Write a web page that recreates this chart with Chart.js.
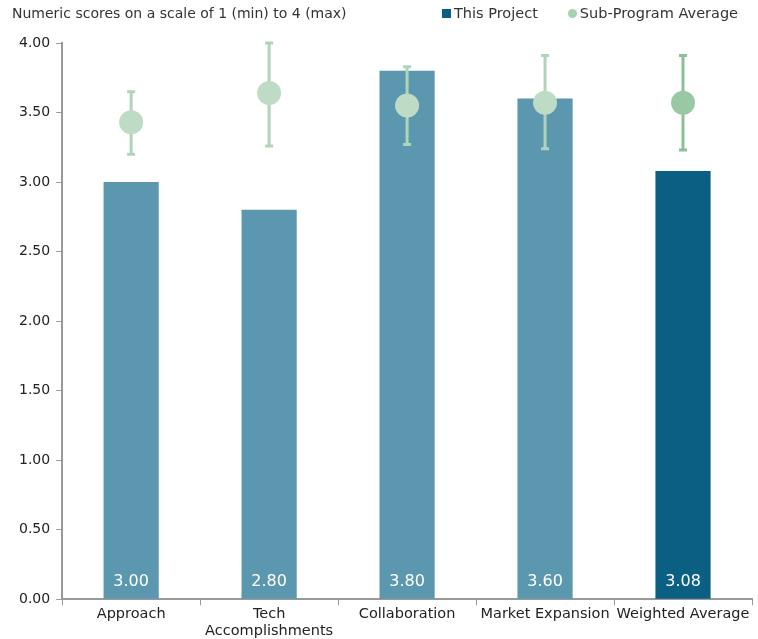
<!DOCTYPE html>
<html lang="en">
<head>
  <meta charset="UTF-8" />
  <title>Project Scores</title>
  <script src="https://cdn.jsdelivr.net/npm/chart.js"></script>
  <style>
    body {
      margin: 0;
      background: #fff;
      font-family: 'DejaVu Sans', sans-serif;
    }
    .wrap {
      position: relative;
      width: 758px;
      height: 639px;
    }
    .title {
      position: absolute;
      left: 12px;
      top: 5px;
      font-size: 14px;
      color: #333;
    }
    .legend {
      position: absolute;
      left: 442px;
      top: 5px;
      font-size: 14.5px;
      color: #333;
      white-space: nowrap;
    }
    .legend span { margin-right: 30px; }
    .sq {
      display: inline-block;
      width: 9px; height: 9px;
      background: #0a5f82;
      margin-right: 3px;
    }
    .dot {
      display: inline-block;
      width: 9px; height: 9px;
      border-radius: 50%;
      background: #a7d1b1;
      margin-right: 3px;
    }
  </style>
</head>
<body>
  <div class="wrap">
    <div class="title">Numeric scores on a scale of 1 (min) to 4 (max)</div>
    <div class="legend"><span><i class="sq"></i>This Project</span><span><i class="dot"></i>Sub-Program Average</span></div>
    <canvas id="scores" width="758" height="639"></canvas>
  </div>

  <script>
    const categories = ['Approach', ['Tech', 'Accomplishments'], 'Collaboration', 'Market Expansion', 'Weighted Average'];
    const projectScores = [3.00, 2.80, 3.80, 3.60, 3.08];
    const subProgramAvg = [3.43, 3.64, 3.55, 3.57, 3.57];
    const subProgramLow = [3.20, 3.26, 3.27, 3.24, 3.23];
    const subProgramHigh = [3.65, 4.00, 3.83, 3.91, 3.91];

    const barColors = ['#5c97b0', '#5c97b0', '#5c97b0', '#5c97b0', '#0a5f82'];
    const dotColors = ['#bedcc5', '#bedcc5', '#bedcc5', '#bedcc5', '#98c8a4'];
    const whiskerColors = ['#b0d4b9', '#b0d4b9', '#b0d4b9', '#b0d4b9', '#8cbf99'];

    // whiskers go between the bars and the average dots
    const errorBars = {
      id: 'errorBars',
      afterDatasetDraw(chart, args) {
        if (args.index !== 1) return;
        const ctx = chart.ctx;
        const x = chart.scales.x;
        const y = chart.scales.y;
        ctx.save();
        ctx.lineWidth = 3;
        subProgramAvg.forEach((v, i) => {
          const px = x.getPixelForValue(i);
          const top = y.getPixelForValue(subProgramHigh[i]);
          const bot = y.getPixelForValue(subProgramLow[i]);
          ctx.strokeStyle = whiskerColors[i];
          ctx.beginPath();
          ctx.moveTo(px, top); ctx.lineTo(px, bot);
          ctx.moveTo(px - 4, top); ctx.lineTo(px + 4, top);
          ctx.moveTo(px - 4, bot); ctx.lineTo(px + 4, bot);
          ctx.stroke();
        });
        ctx.restore();
      }
    };

    // value labels sit at the foot of each bar
    const barLabels = {
      id: 'barLabels',
      afterDatasetsDraw(chart) {
        const ctx = chart.ctx;
        const meta = chart.getDatasetMeta(1);
        const base = chart.scales.y.getPixelForValue(0);
        ctx.save();
        ctx.fillStyle = '#fff';
        ctx.font = '16px "DejaVu Sans"';
        ctx.textAlign = 'center';
        ctx.textBaseline = 'middle';
        meta.data.forEach((bar, i) => {
          ctx.fillText(projectScores[i].toFixed(2), bar.x, base - 17);
        });
        ctx.restore();
      }
    };

    new Chart(document.getElementById('scores'), {
      data: {
        labels: categories,
        datasets: [{
          type: 'line',
          label: 'Sub-Program Average',
          data: subProgramAvg,
          showLine: false,
          pointRadius: 12,
          pointHoverRadius: 12,
          pointBackgroundColor: dotColors,
          pointBorderWidth: 0,
          order: 0
        }, {
          type: 'bar',
          label: 'This Project',
          data: projectScores,
          backgroundColor: barColors,
          barPercentage: 0.4,
          categoryPercentage: 1,
          order: 1
        }]
      },
      options: {
        responsive: false,
        animation: false,
        layout: { autoPadding: false, padding: { top: 43, right: 6, left: 13, bottom: -1 } },
        plugins: {
          legend: { display: false },
          tooltip: { enabled: false }
        },
        scales: {
          x: {
            offset: true,
            // labels fit inside their categories, no extra side room needed
            afterFit: s => { s.paddingLeft = 0; s.paddingRight = 0; },
            grid: {
              offset: true,
              drawOnChartArea: false,
              tickLength: 6,
              color: '#999'
            },
            border: { color: '#999', width: 2 },
            ticks: { color: '#222', padding: 0, font: { family: 'DejaVu Sans', size: 14.5 }, maxRotation: 0, autoSkip: false }
          },
          y: {
            min: 0,
            max: 4,
            ticks: {
              stepSize: 0.5,
              color: '#222',
              padding: 6,
              font: { family: 'DejaVu Sans', size: 14 },
              callback: v => v.toFixed(2)
            },
            grid: { drawOnChartArea: false, tickLength: 6, color: '#999' },
            border: { color: '#999', width: 2 }
          }
        }
      },
      plugins: [errorBars, barLabels]
    });
  </script>
</body>
</html>
